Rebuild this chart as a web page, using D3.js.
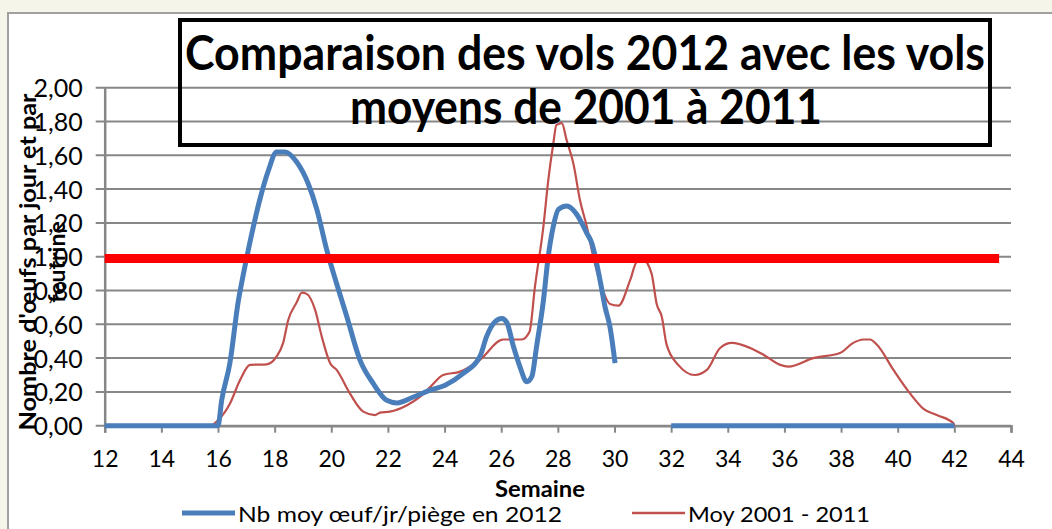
<!DOCTYPE html>
<html>
<head>
<meta charset="utf-8">
<script src="https://cdnjs.cloudflare.com/ajax/libs/d3/7.8.5/d3.min.js"></script>
<style>
  body { margin: 0; background: #f5f5ea; }
  text { font-family: Lato, "Open Sans", sans-serif; fill: #000; }
</style>
</head>
<body>
<div class="chart"></div>
<script>
// Données
var semaines2012 = [12, 16, 16.13, 16.42, 16.72, 16.9, 17.07, 17.48, 17.78, 18.07, 18.37, 18.78, 19.19, 19.49, 19.84,
  20.19, 20.55, 21.01, 21.48, 21.96, 22.31, 22.9, 23.49, 24.02, 24.66, 25.25, 25.49, 25.78, 26.02, 26.2, 26.43,
  26.66, 26.9, 27.08, 27.25, 27.49, 27.66, 27.84, 28.02, 28.31, 28.67, 29.02, 29.2, 29.49, 29.67, 29.84, 30.02,
  31, 32, 42];
var valeurs2012 = [0, 0, 0.15, 0.37, 0.74, 0.9, 1.04, 1.34, 1.51, 1.62, 1.62, 1.56, 1.43, 1.28, 1.04,
  0.84, 0.645, 0.39, 0.25, 0.15, 0.135, 0.17, 0.21, 0.24, 0.31, 0.41, 0.53, 0.615, 0.635, 0.61, 0.47,
  0.35, 0.26, 0.29, 0.47, 0.74, 1.0, 1.18, 1.28, 1.3, 1.25, 1.14, 1.08, 0.86, 0.7, 0.585, 0.37,
  null, 0, 0];

var semainesMoy = [15, 15.72, 16.01, 16.42, 16.78, 17.13, 17.72, 18.07, 18.3, 18.48, 18.78, 18.96, 19.13, 19.43,
  19.66, 19.96, 20.19, 20.66, 21.13, 21.54, 21.72, 22.07, 22.66, 23.13, 23.5, 23.95, 24.55, 25.25, 26.07, 26.72,
  27.0, 27.19, 27.49, 27.66, 27.84, 27.95, 28.14, 28.31, 28.55, 28.78, 29.02, 29.25, 29.55, 29.84, 30.14, 30.55,
  30.79, 31.02, 31.31, 31.49, 31.67, 31.84, 32.25, 32.84, 33.26, 33.73, 34.14, 34.79, 35.26, 35.85, 36.14, 37.02,
  37.96, 38.43, 38.79, 39.02, 39.26, 39.85, 40.44, 40.91, 41.38, 41.97, 42];
var valeursMoy = [0, 0, 0.034, 0.13, 0.27, 0.36, 0.363, 0.41, 0.49, 0.625, 0.73, 0.787, 0.78, 0.685,
  0.53, 0.37, 0.33, 0.19, 0.083, 0.063, 0.077, 0.083, 0.12, 0.17, 0.23, 0.3, 0.32, 0.39, 0.51, 0.51,
  0.556, 0.82, 1.18, 1.45, 1.67, 1.78, 1.79, 1.69, 1.55, 1.335, 1.18, 1.0, 0.82, 0.72, 0.71, 0.86,
  0.97, 0.98, 0.9, 0.72, 0.645, 0.48, 0.36, 0.3, 0.33, 0.46, 0.49, 0.46, 0.42, 0.36, 0.35, 0.4,
  0.43, 0.49, 0.51, 0.51, 0.48, 0.33, 0.19, 0.1, 0.063, 0.014, 0];

// ligne de seuil rouge
var semainesSeuil = [12, 43.58];
var valeursSeuil = [0.99, 0.99];

var ticksX = d3.range(12, 45, 2);
var ticksY = d3.range(0, 2.01, 0.2);

var titre = ["Comparaison des vols 2012 avec les vols", "moyens de 2001 à 2011"];
var titreY = ["Nombre d'œufs par jour et par", "feutrine"];
var titreX = "Semaine";
var legendes = ["Nb moy œuf/jr/piège en 2012", "Moy 2001 - 2011"];

var svgWidth = 1052;
var svgHeight = 529;

var margin = { top: 87.7, right: 41, bottom: 103.3, left: 104.7 };
var width = svgWidth - margin.left - margin.right;
var height = svgHeight - margin.top - margin.bottom;

var svg = d3.select(".chart")
  .append("svg")
  .attr("width", svgWidth)
  .attr("height", svgHeight);

// fond
svg.append("rect")
  .attr("width", svgWidth).attr("height", svgHeight)
  .attr("fill", "#f5f5ea");
svg.append("rect")
  .attr("x", 8).attr("y", 13)
  .attr("width", svgWidth + 20).attr("height", svgHeight + 20)
  .attr("fill", "#fff")
  .attr("stroke", "#a0a0a0")
  .attr("stroke-width", 2);

var chartGroup = svg.append("g")
  .attr("transform", `translate(${margin.left}, ${margin.top})`);

var x = d3.scaleLinear().domain([12, 44]).range([0, width]);
var y = d3.scaleLinear().domain([0, 2]).range([height, 0]);

// grille
chartGroup.append("g")
  .selectAll("line")
  .data(ticksY)
  .enter()
  .append("line")
  .attr("x1", -9)
  .attr("x2", width)
  .attr("y1", d => y(d))
  .attr("y2", d => y(d))
  .attr("stroke", "#878787")
  .attr("stroke-width", 2);

// axes
var leftAxis = d3.axisLeft(y)
  .tickValues(ticksY)
  .tickSize(0)
  .tickPadding(22)
  .tickFormat(d => d3.format(".2f")(d).replace(".", ","));
var bottomAxis = d3.axisBottom(x)
  .tickValues(ticksX)
  .tickSize(7)
  .tickPadding(18)
  .tickFormat(d3.format("d"));

var yAxisG = chartGroup.append("g").call(leftAxis);
var xAxisG = chartGroup.append("g")
  .attr("transform", `translate(0, ${height})`)
  .call(bottomAxis);

[yAxisG, xAxisG].forEach(function(g) {
  g.select(".domain").attr("stroke", "#878787").attr("stroke-width", 2.5);
  g.selectAll(".tick line").attr("stroke", "#878787").attr("stroke-width", 2);
  g.selectAll(".tick text")
    .style("font-family", "Lato, 'Open Sans', sans-serif")
    .style("font-size", "23px")
    .attr("fill", "#000");
});
yAxisG.selectAll(".tick text")
  .style("font-size", "25px")
  .attr("dy", "0.36em");

var line = d3.line()
  .defined(d => d[1] !== null)
  .curve(d3.curveMonotoneX)
  .x(d => x(d[0]))
  .y(d => y(d[1]));

var serie2012 = d3.zip(semaines2012, valeurs2012);
var serieMoy = d3.zip(semainesMoy, valeursMoy);
var serieSeuil = d3.zip(semainesSeuil, valeursSeuil);

chartGroup.append("path")
  .datum(serieMoy)
  .attr("d", line)
  .attr("fill", "none")
  .attr("stroke", "#c0504d")
  .attr("stroke-width", 2.2)
  .attr("stroke-linejoin", "round");

chartGroup.append("path")
  .datum(serie2012)
  .attr("d", line)
  .attr("fill", "none")
  .attr("stroke", "#4a7ebb")
  .attr("stroke-width", 5)
  .attr("stroke-linejoin", "round");

chartGroup.append("path")
  .datum(serieSeuil)
  .attr("d", line)
  .attr("fill", "none")
  .attr("stroke", "#ff0000")
  .attr("stroke-width", 9);

// cadre du titre
svg.append("rect")
  .attr("x", 180).attr("y", 20)
  .attr("width", 810).attr("height", 125)
  .attr("fill", "none")
  .attr("stroke", "#000")
  .attr("stroke-width", 4);

svg.append("text")
  .attr("x", 585).attr("y", 70)
  .attr("text-anchor", "middle")
  .attr("font-weight", "bold")
  .attr("font-size", 48)
  .attr("textLength", 800)
  .attr("lengthAdjust", "spacingAndGlyphs")
  .text(titre[0]);
svg.append("text")
  .attr("x", 586).attr("y", 124)
  .attr("text-anchor", "middle")
  .attr("font-weight", "bold")
  .attr("font-size", 48)
  .attr("textLength", 472)
  .attr("lengthAdjust", "spacingAndGlyphs")
  .text(titre[1]);

// titre axe Y
svg.append("text")
  .attr("transform", "translate(36, 262) rotate(-90)")
  .attr("text-anchor", "middle")
  .attr("font-weight", "bold")
  .attr("font-size", 23)
  .attr("textLength", 337)
  .attr("lengthAdjust", "spacingAndGlyphs")
  .text(titreY[0]);
svg.append("text")
  .attr("transform", "translate(65, 262) rotate(-90)")
  .attr("text-anchor", "middle")
  .attr("font-weight", "bold")
  .attr("font-size", 23)
  .text(titreY[1]);

// titre axe X
svg.append("text")
  .attr("x", 540).attr("y", 497)
  .attr("text-anchor", "middle")
  .attr("font-weight", "bold")
  .attr("font-size", 22)
  .attr("textLength", 90)
  .attr("lengthAdjust", "spacingAndGlyphs")
  .text(titreX);

// légende
var legende = svg.append("g");
var items = [
  { x: 182, couleur: "#4a7ebb", ep: 5, texte: legendes[0], long: 324 },
  { x: 632, couleur: "#c0504d", ep: 2.5, texte: legendes[1], long: 182 }
];
items.forEach(function(it) {
  legende.append("line")
    .attr("x1", it.x).attr("x2", it.x + 53)
    .attr("y1", 513).attr("y2", 513)
    .attr("stroke", it.couleur)
    .attr("stroke-width", it.ep);
  legende.append("text")
    .attr("x", it.x + 56).attr("y", 522)
    .attr("font-size", 21)
    .attr("textLength", it.long)
    .attr("lengthAdjust", "spacingAndGlyphs")
    .text(it.texte);
});
</script>
</body>
</html>
